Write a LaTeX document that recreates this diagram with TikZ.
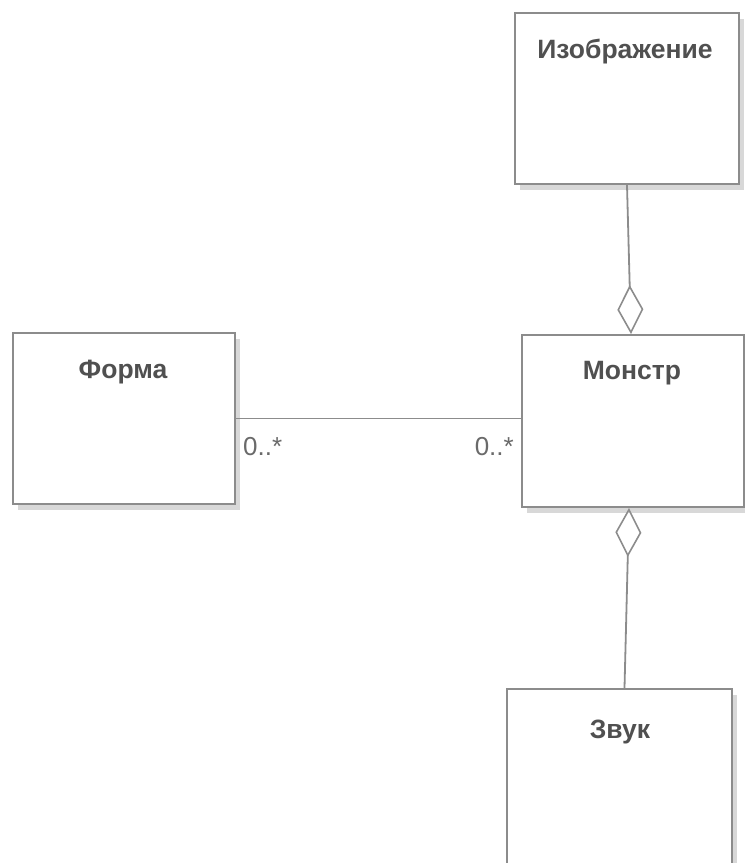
\documentclass[tikz,border=0pt]{standalone}
\usepackage{fontspec}
\setmainfont{Liberation Sans}
\usetikzlibrary{arrows.meta,shadows}
\definecolor{edgegray}{HTML}{8C8C8C}
\definecolor{textgray}{HTML}{505050}
\definecolor{labgray}{HTML}{6A6A6A}
\definecolor{shadgray}{HTML}{D8D8D8}
\tikzset{
  classbox/.style={draw=edgegray, line width=2pt, fill=white, rectangle, anchor=north west, inner sep=0pt,
    drop shadow={shadow xshift=5pt, shadow yshift=-6pt, fill=shadgray, opacity=1}},
  title/.style={text=textgray, font=\fontsize{26.5}{30}\selectfont\bfseries, inner sep=0pt},
  mult/.style={text=labgray, font=\fontsize{26}{29}\selectfont, inner sep=0pt},
  conn/.style={draw=edgegray, line width=1.8pt},
  aggr/.style={conn, -{Diamond[open, length=49pt, width=26pt, line width=1.6pt]}}
}
\begin{document}
\begin{tikzpicture}[x=1pt,y=-1pt]
\useasboundingbox (0,0) rectangle (745,863);
\node[classbox, minimum width=224pt, minimum height=171pt] (img) at (514,12) {};
\node[classbox, minimum width=222pt, minimum height=171pt] (forma) at (12,332) {};
\node[classbox, minimum width=222pt, minimum height=172pt] (mon) at (521,334) {};
\node[classbox, minimum width=225pt, minimum height=180pt] (zvuk) at (506,688) {};
\node[title] (timg) at (625,52) {Изображение};
\node[title] (tforma) at (123,372) {Форма};
\node[title] (tmon) at (632,373) {Монстр};
\node[title] (tzvuk) at (620,732) {Звук};
\draw[aggr] ([xshift=0pt]img.south) -- ([xshift=-2pt]mon.north);
\draw[aggr] ([xshift=5pt]zvuk.north) -- ([xshift=-4pt]mon.south);
\draw[conn] (forma.east) -- (forma.east -| mon.west);
\node[mult, anchor=west] (m1) at (243,447) {0..*};
\node[mult, anchor=east] (m2) at (514,447) {0..*};
\end{tikzpicture}
\end{document}
